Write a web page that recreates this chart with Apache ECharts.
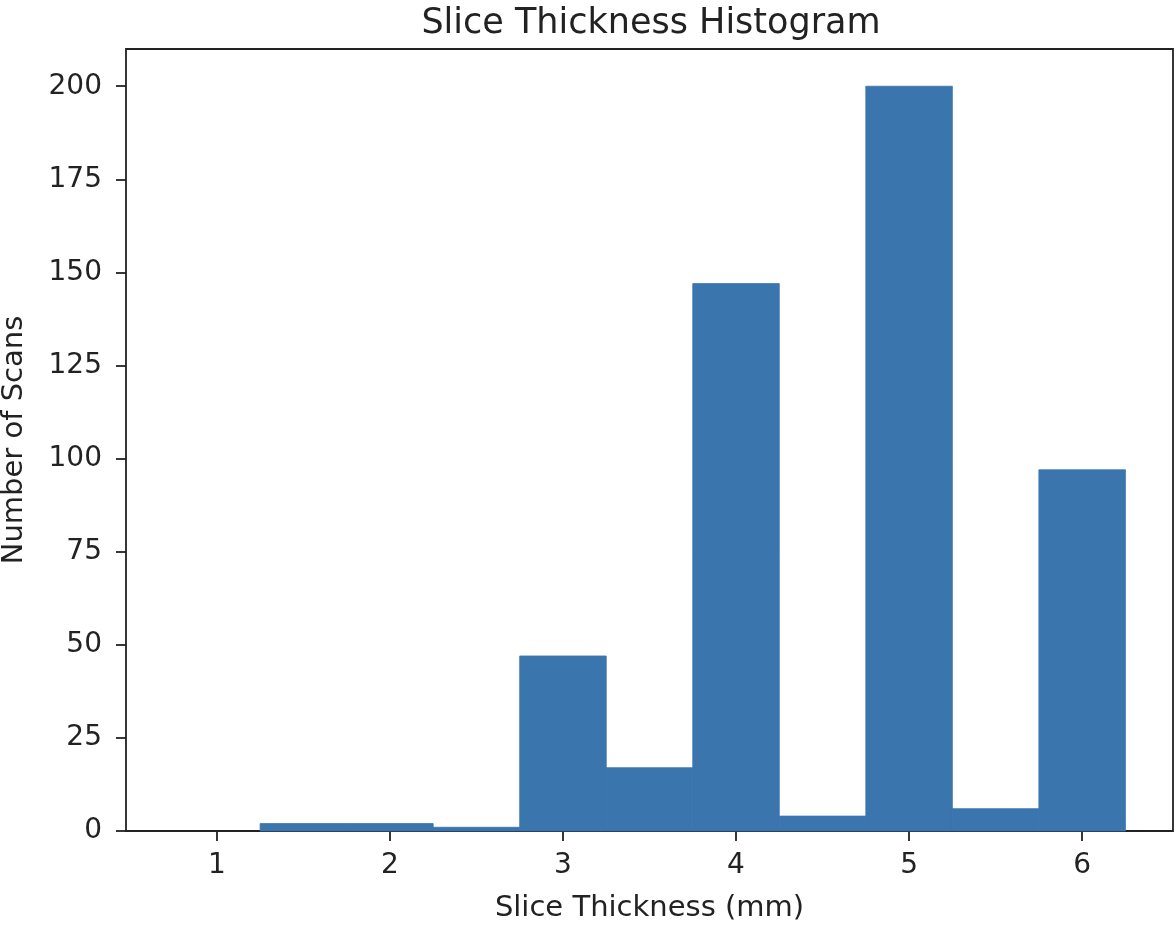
<!DOCTYPE html>
<html>
<head>
<meta charset="utf-8">
<script src="https://cdn.jsdelivr.net/npm/echarts@6/dist/echarts.min.js"></script>
<style>
html,body{margin:0;padding:0;background:#fff;}
#chart{width:1176px;height:926px;}
</style>
</head>
<body>
<div id="chart"></div>
<script>
const binStarts = [0.75, 1.25, 1.75, 2.25, 2.75, 3.25, 3.75, 4.25, 4.75, 5.25, 5.75];
const binEnds   = [1.25, 1.75, 2.25, 2.75, 3.25, 3.75, 4.25, 4.75, 5.25, 5.75, 6.25];
const counts    = [0, 2, 2, 1, 47, 17, 147, 4, 200, 6, 97];
const xTicks = [1, 2, 3, 4, 5, 6];
const yTicks = [0, 25, 50, 75, 100, 125, 150, 175, 200];

const data = binStarts.map((s, i) => [s, binEnds[i], counts[i]]);
const font = 'DejaVu Sans';
const txt = '#222';
const barColor = '#3a75ae';
const chart = echarts.init(document.getElementById('chart'), null, {renderer: 'canvas'});
chart.setOption({
  animation: false,
  backgroundColor: '#fff',
  title: {
    text: 'Slice Thickness Histogram',
    left: 646, top: 1, textAlign: 'center',
    textStyle: {fontFamily: font, fontSize: 35, fontWeight: 'normal', color: txt}
  },
  grid: {
    left: 126, right: 3, top: 49, bottom: 95,
    outerBoundsMode: 'none', containLabel: false,
    show: true, borderColor: '#222', borderWidth: 1.8, backgroundColor: 'transparent'
  },
  xAxis: {
    type: 'value', min: 0.475, max: 6.525,
    name: 'Slice Thickness (mm)', nameLocation: 'middle', nameGap: 63,
    nameTextStyle: {fontFamily: font, fontSize: 29, color: txt},
    axisLine: {show: false},
    axisTick: {show: true, customValues: xTicks, length: 10, inside: false, lineStyle: {color: '#222', width: 1.8}},
    axisLabel: {customValues: xTicks, fontFamily: font, fontSize: 28, color: txt, margin: 21},
    splitLine: {show: false}
  },
  yAxis: {
    type: 'value', min: 0, max: 210,
    name: 'Number of Scans', nameLocation: 'middle', nameGap: 97, nameRotate: 90,
    nameTextStyle: {fontFamily: font, fontSize: 29, color: txt},
    axisLine: {show: false},
    axisTick: {show: true, customValues: yTicks, length: 10, inside: false, lineStyle: {color: '#222', width: 1.8}},
    axisLabel: {customValues: yTicks, fontFamily: font, fontSize: 28, color: txt, margin: 24},
    splitLine: {show: false}
  },
  series: [{
    type: 'custom',
    data: data,
    encode: {x: [0, 1], y: 2},
    renderItem: function (params, api) {
      const p0 = api.coord([api.value(0), api.value(2)]);
      const p1 = api.coord([api.value(1), 0]);
      return {
        type: 'rect',
        shape: {x: p0[0], y: p0[1], width: p1[0] - p0[0], height: p1[1] - p0[1]},
        style: {fill: barColor, stroke: api.value(2) > 0 ? barColor : null, lineWidth: 0.8}
      };
    },
    z: 1
  }]
});
</script>
</body>
</html>
